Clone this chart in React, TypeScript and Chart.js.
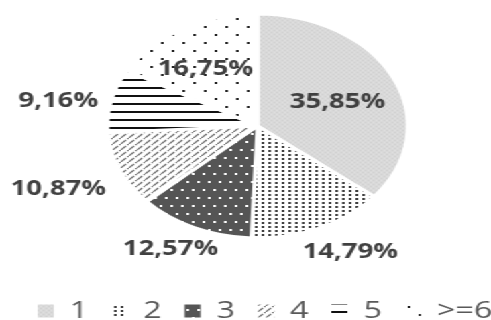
import React, { useEffect, useRef } from "react";
import { Chart, registerables } from "chart.js";

Chart.register(...registerables);

// ---- data ----
const categories = ["1", "2", "3", "4", "5", ">=6"];
const shares = [35.85, 14.79, 12.57, 10.87, 9.16, 16.75];

// ---- label placement (style) ----
const labelDistance = [0.574, 1.285, 1.241, 1.44, 1.345, 0.616];
const labelAngleShift = [3.6, -4.4, 2.9, -0.1, -3.6, -4.1];

const patternKinds = ["gray", "fineDots", "darkDots", "diag", "hlines", "sparse"];

function makePattern(kind: string): CanvasPattern | string {
  const c = document.createElement("canvas");
  const g = c.getContext("2d");
  if (!g) return "#999";
  if (kind === "gray") {
    c.width = 4; c.height = 4;
    g.fillStyle = "#d9d9d9"; g.fillRect(0, 0, 4, 4);
    g.fillStyle = "#d0d0d0"; g.fillRect(0, 0, 1, 1); g.fillRect(2, 2, 1, 1);
    g.fillStyle = "#e0e0e0"; g.fillRect(2, 0, 1, 1); g.fillRect(0, 2, 1, 1);
  } else if (kind === "fineDots") {
    c.width = 5; c.height = 4;
    g.fillStyle = "#ffffff"; g.fillRect(0, 0, 5, 4);
    g.fillStyle = "#404040"; g.fillRect(0, 0, 2, 2);
  } else if (kind === "darkDots") {
    c.width = 8; c.height = 16;
    g.fillStyle = "#555555"; g.fillRect(0, 0, 8, 16);
    g.fillStyle = "#ffffff"; g.fillRect(3, 3, 2, 2); g.fillRect(7, 11, 1, 2); g.fillRect(0, 11, 1, 2);
  } else if (kind === "diag") {
    c.width = 6; c.height = 6;
    g.fillStyle = "#ffffff"; g.fillRect(0, 0, 6, 6);
    g.strokeStyle = "#666666"; g.lineWidth = 1.1;
    g.beginPath(); g.moveTo(-1, 7); g.lineTo(4, 2); g.stroke();
    g.beginPath(); g.moveTo(5, 1); g.lineTo(7, -1); g.stroke();
  } else if (kind === "hlines") {
    c.width = 4; c.height = 8;
    g.fillStyle = "#ffffff"; g.fillRect(0, 0, 4, 8);
    g.fillStyle = "#111111"; g.fillRect(0, 5, 4, 2);
  } else {
    c.width = 16; c.height = 16;
    g.fillStyle = "#ffffff"; g.fillRect(0, 0, 16, 16);
    g.fillStyle = "#222222"; g.fillRect(0, 0, 2, 2); g.fillRect(8, 8, 2, 2);
  }
  return g.createPattern(c, "repeat") || "#999";
}

const fmt = (v: number) => v.toFixed(2).replace(".", ",") + "%";

const labelPlugin = {
  id: "sliceLabels",
  afterDatasetsDraw(chart: any) {
    const meta = chart.getDatasetMeta(0);
    const ctx = chart.ctx as CanvasRenderingContext2D;
    ctx.save();
    ctx.font = "bold 20.5px 'Open Sans'";
    ctx.fillStyle = "#404040";
    ctx.textAlign = "center";
    ctx.textBaseline = "middle";
    meta.data.forEach((arc: any, i: number) => {
      const p = arc.getProps(["x", "y", "startAngle", "endAngle", "outerRadius"], true);
      const mid = (p.startAngle + p.endAngle) / 2 + (labelAngleShift[i] * Math.PI) / 180;
      const d = p.outerRadius * labelDistance[i];
      ctx.fillText(fmt(shares[i]), p.x + Math.cos(mid) * d, p.y + Math.sin(mid) * d);
    });
    ctx.restore();
  },
};

// keeps the legend on one row although it is slightly wider than its box
const legendRowPlugin = {
  id: "legendRow",
  beforeLayout(chart: any) {
    const leg = chart.legend;
    if (!leg || leg.__rowPatched) return;
    if (typeof leg._fitRows === "function") {
      const origFit = leg._fitRows;
      leg._fitRows = function (...args: any[]) {
        const mw = this.maxWidth;
        this.maxWidth = mw + 60;
        const r = origFit.apply(this, args);
        this.maxWidth = mw;
        return r;
      };
    }
    const origDraw = leg.draw;
    leg.draw = function (...args: any[]) {
      const L = this.left;
      const R = this.right;
      this.left = L - 30;
      this.right = R + 30;
      const r = origDraw.apply(this, args);
      this.left = L;
      this.right = R;
      return r;
    };
    leg.__rowPatched = true;
  },
};

export default function App() {
  const ref = useRef<HTMLCanvasElement | null>(null);
  useEffect(() => {
    if (!ref.current) return;
    const fills = patternKinds.map(makePattern);
    const chart = new Chart(ref.current, {
      type: "pie",
      data: {
        labels: categories,
        datasets: [
          {
            data: shares,
            backgroundColor: fills as any,
            borderColor: "#ffffff",
            borderWidth: 3,
            radius: 112,
          } as any,
        ],
      },
      options: {
        animation: false,
        responsive: true,
        maintainAspectRatio: false,
        events: [],
        layout: { padding: { left: 18, right: -11, top: 0, bottom: 0 } },
        plugins: {
          tooltip: { enabled: false },
          legend: {
            position: "bottom",
            labels: {
              boxWidth: 12,
              boxHeight: 13,
              padding: 17,
              color: "#595959",
              font: { family: "'Open Sans'", size: 24 },
              generateLabels(c: any) {
                const items = (Chart as any).overrides.pie.plugins.legend.labels.generateLabels(c);
                items.forEach((it: any) => {
                  it.lineWidth = 0;
                  it.strokeStyle = "rgba(0,0,0,0)";
                });
                return items;
              },
            },
          },
        },
      } as any,
      plugins: [legendRowPlugin, labelPlugin],
    });
    return () => chart.destroy();
  }, []);
  return (
    <div
      style={{
        position: "fixed",
        left: 0,
        top: -30,
        width: 366,
        height: 363,
        transform: "scaleX(1.3415)",
        transformOrigin: "0 0",
        background: "#fff",
      }}
    >
      <canvas ref={ref} />
    </div>
  );
}
